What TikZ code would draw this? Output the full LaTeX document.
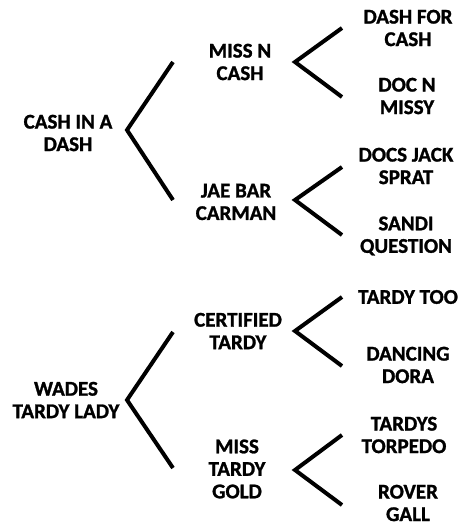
\documentclass[tikz,border=0pt]{standalone}
\usepackage{fontspec}
\setmainfont{Carlito}[BoldFont={Carlito Bold},BoldFeatures={FakeBold=1.2}]
\begin{document}
\begin{tikzpicture}[x=1pt,y=-1pt,
  lbl/.style={font=\fontsize{21}{22.5}\selectfont\bfseries, align=center, inner sep=0pt},
  brk/.style={line width=4pt, line cap=butt, line join=miter}]
\useasboundingbox (0,0) rectangle (461,525);
% labels
\node[lbl] (r1) at (68,133) {CASH IN A\\DASH};
\node[lbl] (a1) at (240,62) {MISS N\\CASH};
\node[lbl] (a2) at (236,202) {JAE BAR\\CARMAN};
\node[lbl] (b1) at (408,28) {DASH FOR\\CASH};
\node[lbl] (b2) at (407,96) {DOC N\\MISSY};
\node[lbl] (b3) at (406,166) {DOCS JACK\\SPRAT};
\node[lbl] (b4) at (406,236) {SANDI\\QUESTION};
\node[lbl] (r2) at (66,400) {WADES\\TARDY LADY};
\node[lbl] (c1) at (238,331) {CERTIFIED\\TARDY};
\node[lbl] (c2) at (237,469) {MISS\\TARDY\\GOLD};
\node[lbl] (d1) at (408,297) {TARDY TOO};
\node[lbl] (d2) at (408,365) {DANCING\\DORA};
\node[lbl] (d3) at (404,435) {TARDYS\\TORPEDO};
\node[lbl] (d4) at (408,503) {ROVER\\GALL};
% bracket points
\coordinate (v1) at (127,130);
\coordinate (v1a) at (173,62);
\coordinate (v1b) at (173,200);
\coordinate (va1) at (295,62);
\coordinate (va1a) at (342,28);
\coordinate (va1b) at (342,97);
\coordinate (va2) at (295,200);
\coordinate (va2a) at (342,167);
\coordinate (va2b) at (342,235);
\coordinate (v2) at (127,400);
\coordinate (v2a) at (173,332);
\coordinate (v2b) at (173,468);
\coordinate (vc1) at (295,331);
\coordinate (vc1a) at (342,297);
\coordinate (vc1b) at (342,366);
\coordinate (vc2) at (295,470);
\coordinate (vc2a) at (342,435);
\coordinate (vc2b) at (342,505);
% brackets
\draw[brk] (v1a) -- (v1) -- (v1b);
\draw[brk] (va1a) -- (va1) -- (va1b);
\draw[brk] (va2a) -- (va2) -- (va2b);
\draw[brk] (v2a) -- (v2) -- (v2b);
\draw[brk] (vc1a) -- (vc1) -- (vc1b);
\draw[brk] (vc2a) -- (vc2) -- (vc2b);
\end{tikzpicture}
\end{document}
